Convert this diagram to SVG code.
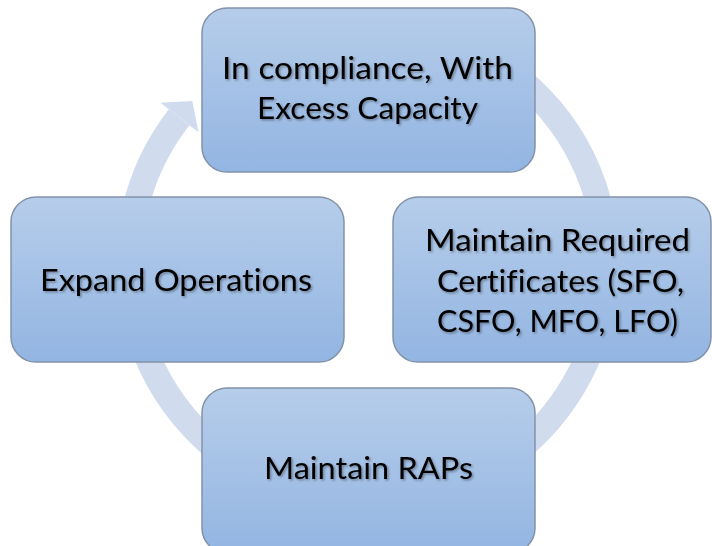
<svg xmlns="http://www.w3.org/2000/svg" width="712" height="546" viewBox="0 0 712 546">
  <defs>
    <linearGradient id="boxFill" x1="0" y1="0" x2="0" y2="1">
      <stop offset="0" stop-color="#b6cdea"/>
      <stop offset="1" stop-color="#93b5e2"/>
    </linearGradient>
    <filter id="textShadow" x="-10%" y="-30%" width="120%" height="160%">
      <feDropShadow dx="1.5" dy="1.5" stdDeviation="1" flood-color="#000000" flood-opacity="0.35"/>
    </filter>
    <style>
      .box { fill: url(#boxFill); stroke: #8292a8; stroke-width: 1.5; }
      .label { font-family: Lato, "Open Sans", "Liberation Sans", sans-serif; font-size: 31px; fill: #000000; font-variant-ligatures: none; filter: url(#textShadow); }
      .cycle { fill: none; stroke: #d0dcee; stroke-width: 26; }
      .cycle-head { fill: #d0dcee; }
    </style>
  </defs>

  <rect width="712" height="546" fill="#ffffff"/>

  <!-- circular flow arrow running behind the boxes -->
  <g id="connectors">
    <path class="cycle" d="M 326.2 28.6 A 239 239 0 1 1 179.1 117.2"/>
    <polygon class="cycle-head" points="160.5,102.7 192.3,101 198.5,132.3"/>
  </g>

  <g id="node-compliance">
    <rect class="box" x="202" y="8" width="333" height="164" rx="25" ry="25"/>
    <text class="label" x="222" y="79" textLength="291" lengthAdjust="spacingAndGlyphs">In compliance, With</text>
    <text class="label" x="257" y="119" textLength="221" lengthAdjust="spacingAndGlyphs">Excess Capacity</text>
  </g>

  <g id="node-certificates">
    <rect class="box" x="393" y="197" width="318" height="165" rx="25" ry="25"/>
    <text class="label" x="425" y="251" textLength="265" lengthAdjust="spacingAndGlyphs">Maintain Required</text>
    <text class="label" x="437" y="292" textLength="247" lengthAdjust="spacingAndGlyphs">Certificates (SFO,</text>
    <text class="label" x="437" y="332" textLength="241" lengthAdjust="spacingAndGlyphs">CSFO, MFO, LFO)</text>
  </g>

  <g id="node-raps">
    <rect class="box" x="202" y="388" width="333" height="165" rx="25" ry="25"/>
    <text class="label" x="264" y="479" textLength="209" lengthAdjust="spacingAndGlyphs">Maintain RAPs</text>
  </g>

  <g id="node-expand">
    <rect class="box" x="11" y="197" width="333" height="165" rx="25" ry="25"/>
    <text class="label" x="40" y="291" textLength="272" lengthAdjust="spacingAndGlyphs">Expand Operations</text>
  </g>
</svg>
